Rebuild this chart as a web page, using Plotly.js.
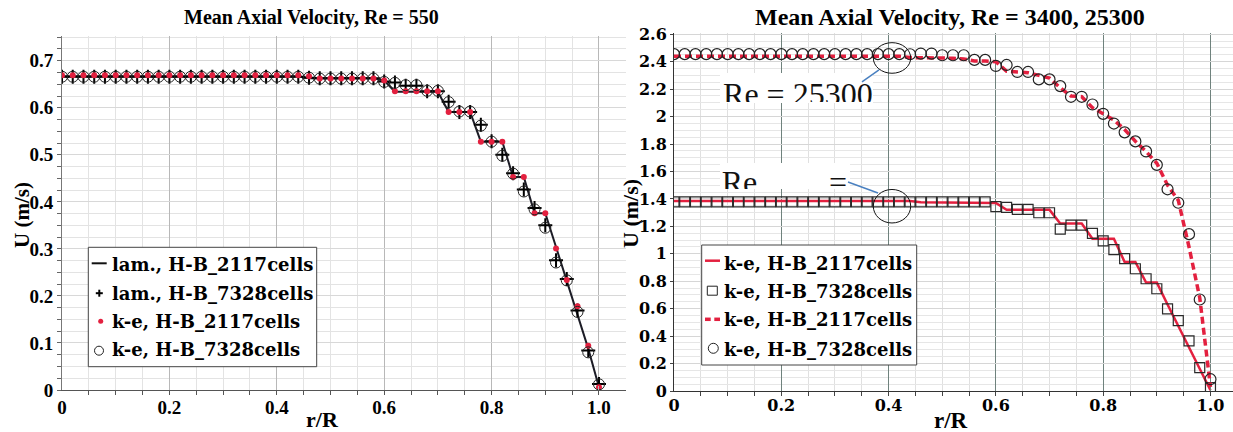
<!DOCTYPE html>
<html>
<head>
<meta charset="utf-8">
<script src="https://cdn.plot.ly/plotly-3.0.1.min.js"></script>
<style>
  html, body { margin: 0; padding: 0; background: #fff; }
  #chart { width: 1233px; height: 432px; }
</style>
</head>
<body>
<div id="chart"></div>
<script>
// Radial positions r/R shared by every profile
const rOverR = [0, 0.02, 0.04, 0.06, 0.08, 0.1, 0.12, 0.14, 0.16, 0.18,
  0.2, 0.22, 0.24, 0.26, 0.28, 0.3, 0.32, 0.34, 0.36, 0.38,
  0.4, 0.42, 0.44, 0.46, 0.48, 0.5, 0.52, 0.54, 0.56, 0.58,
  0.6, 0.62, 0.64, 0.66, 0.68, 0.7, 0.72, 0.74, 0.76, 0.78,
  0.8, 0.82, 0.84, 0.86, 0.88, 0.9, 0.92, 0.94, 0.96, 0.98, 1.0];

// Re = 550 (laminar and k-e runs), U in m/s
const lam2117 = [0.667, 0.667, 0.667, 0.667, 0.667, 0.667, 0.667, 0.667, 0.667, 0.667,
  0.667, 0.667, 0.667, 0.667, 0.667, 0.667, 0.667, 0.667, 0.667, 0.667,
  0.667, 0.667, 0.667, 0.663, 0.663, 0.663, 0.663, 0.663, 0.663, 0.663,
  0.658, 0.634, 0.634, 0.634, 0.634, 0.634, 0.591, 0.591, 0.591, 0.528,
  0.528, 0.528, 0.453, 0.453, 0.376, 0.376, 0.304, 0.232, 0.160, 0.088,
  0.006];
const lam7328 = [0.666, 0.666, 0.666, 0.666, 0.666, 0.666, 0.666, 0.666, 0.666, 0.666,
  0.666, 0.666, 0.666, 0.666, 0.666, 0.666, 0.666, 0.666, 0.666, 0.666,
  0.666, 0.666, 0.666, 0.664, 0.663, 0.663, 0.663, 0.663, 0.663, 0.663,
  0.656, 0.654, 0.647, 0.647, 0.635, 0.635, 0.613, 0.591, 0.591, 0.564,
  0.529, 0.500, 0.461, 0.426, 0.387, 0.350, 0.276, 0.236, 0.169, 0.084,
  0.013];
const ke2117_550 = [0.669, 0.669, 0.669, 0.669, 0.669, 0.669, 0.669, 0.669, 0.669, 0.669,
  0.669, 0.669, 0.669, 0.669, 0.669, 0.669, 0.669, 0.669, 0.669, 0.669,
  0.669, 0.669, 0.669, 0.667, 0.662, 0.662, 0.662, 0.662, 0.662, 0.662,
  0.658, 0.635, 0.635, 0.635, 0.635, 0.635, 0.591, 0.591, 0.591, 0.528,
  0.528, 0.528, 0.453, 0.453, 0.376, 0.376, 0.301, 0.234, 0.178, 0.094,
  0.006];
const ke7328_550 = [0.666, 0.666, 0.666, 0.666, 0.666, 0.666, 0.666, 0.666, 0.666, 0.666,
  0.666, 0.666, 0.666, 0.666, 0.666, 0.666, 0.666, 0.666, 0.666, 0.666,
  0.666, 0.666, 0.666, 0.664, 0.662, 0.662, 0.662, 0.662, 0.662, 0.662,
  0.655, 0.653, 0.648, 0.648, 0.636, 0.636, 0.612, 0.592, 0.592, 0.562,
  0.528, 0.498, 0.460, 0.422, 0.384, 0.345, 0.271, 0.233, 0.166, 0.080,
  0.012];

// Re = 3400 and Re = 25300 (k-e runs), U in m/s
const ke2117_3400 = [1.385, 1.385, 1.385, 1.385, 1.385, 1.385, 1.385, 1.385, 1.385, 1.385,
  1.385, 1.385, 1.385, 1.385, 1.385, 1.385, 1.385, 1.385, 1.385, 1.385,
  1.385, 1.385, 1.385, 1.375, 1.375, 1.375, 1.375, 1.375, 1.375, 1.375,
  1.370, 1.320, 1.320, 1.320, 1.320, 1.320, 1.220, 1.220, 1.220, 1.110,
  1.110, 1.110, 0.940, 0.940, 0.790, 0.790, 0.630, 0.475, 0.320, 0.160,
  0.005];
const ke7328_3400 = [1.379, 1.379, 1.379, 1.379, 1.379, 1.379, 1.379, 1.379, 1.379, 1.379,
  1.379, 1.379, 1.379, 1.379, 1.379, 1.379, 1.379, 1.379, 1.379, 1.379,
  1.379, 1.379, 1.379, 1.379, 1.379, 1.379, 1.379, 1.379, 1.379, 1.379,
  1.343, 1.338, 1.324, 1.324, 1.299, 1.299, 1.180, 1.209, 1.209, 1.148,
  1.094, 1.031, 0.965, 0.891, 0.818, 0.745, 0.598, 0.513, 0.366, 0.171,
  0.024];
const ke2117_25300 = [2.440, 2.440, 2.440, 2.440, 2.440, 2.440, 2.440, 2.440, 2.440, 2.440,
  2.440, 2.440, 2.440, 2.440, 2.440, 2.440, 2.440, 2.440, 2.440, 2.440,
  2.440, 2.440, 2.430, 2.430, 2.430, 2.430, 2.425, 2.420, 2.405, 2.405,
  2.400, 2.330, 2.325, 2.320, 2.300, 2.280, 2.210, 2.150, 2.145, 2.065,
  2.020, 1.975, 1.905, 1.820, 1.745, 1.660, 1.500, 1.390, 1.050, 0.680,
  0.030];
const ke7328_25300 = [2.455, 2.455, 2.455, 2.455, 2.455, 2.455, 2.455, 2.455, 2.455, 2.455,
  2.455, 2.455, 2.455, 2.455, 2.455, 2.455, 2.455, 2.455, 2.455, 2.455,
  2.455, 2.455, 2.454, 2.459, 2.459, 2.447, 2.447, 2.447, 2.413, 2.413,
  2.369, 2.376, 2.325, 2.325, 2.271, 2.271, 2.222, 2.144, 2.144, 2.088,
  2.020, 1.949, 1.885, 1.819, 1.746, 1.648, 1.470, 1.372, 1.143, 0.667,
  0.086];

// Tick labels
const xTickVals = [0, 0.2, 0.4, 0.6, 0.8, 1.0];
const xTickText = ['0', '0.2', '0.4', '0.6', '0.8', '1.0'];

// Text
const titleLeft = 'Mean Axial Velocity, Re = 550';
const titleRight = 'Mean Axial Velocity, Re = 3400, 25300';
const xTitle = 'r/R';
const yTitle = 'U (m/s)';
const namesLeft = ['lam., H-B_2117cells', 'lam., H-B_7328cells', 'k-e, H-B_2117cells', 'k-e, H-B_7328cells'];
const namesRight = ['k-e, H-B_2117cells', 'k-e, H-B_7328cells', 'k-e, H-B_2117cells', 'k-e, H-B_7328cells'];
const callout25300 = 'Re = 25300';
const callout3400 = ['Re', '='];

const RED = '#e3203f';
const SERIF = 'Liberation Serif, Times New Roman, serif';
const WIDE_SERIF = 'DejaVu Serif, serif';

// pixel -> paper helpers for page furniture
const W = 1233, H = 432;
const px = v => v / W;
const py = v => 1 - v / H;

const traces = [
  { x: rOverR, y: lam2117, xaxis: 'x', yaxis: 'y', mode: 'lines', name: namesLeft[0],
    line: { color: '#1c1c26', width: 2 } },
  { x: rOverR, y: lam7328, xaxis: 'x', yaxis: 'y', mode: 'markers', name: namesLeft[1],
    marker: { symbol: 'cross-thin-open', size: 10, color: '#000', line: { color: '#000', width: 2 } } },
  { x: rOverR, y: ke2117_550, xaxis: 'x', yaxis: 'y', mode: 'markers', name: namesLeft[2],
    marker: { symbol: 'circle', size: 6, color: RED } },
  { x: rOverR, y: ke7328_550, xaxis: 'x', yaxis: 'y', mode: 'markers', name: namesLeft[3],
    marker: { symbol: 'circle-open', size: 11, color: '#222', line: { color: '#222', width: 1 } } },

  { x: rOverR, y: ke2117_3400, xaxis: 'x2', yaxis: 'y2', mode: 'lines', name: namesRight[0],
    line: { color: RED, width: 2.5 } },
  { x: rOverR, y: ke7328_3400, xaxis: 'x2', yaxis: 'y2', mode: 'markers', name: namesRight[1],
    marker: { symbol: 'square-open', size: 10, color: '#2a2a2a', line: { color: '#2a2a2a', width: 1.2 } } },
  { x: rOverR, y: ke2117_25300, xaxis: 'x2', yaxis: 'y2', mode: 'lines', name: namesRight[2],
    line: { color: RED, width: 3.5, dash: '7px,4px' } },
  { x: rOverR, y: ke7328_25300, xaxis: 'x2', yaxis: 'y2', mode: 'markers', name: namesRight[3],
    marker: { symbol: 'circle-open', size: 11, color: '#222', line: { color: '#222', width: 1.2 } } },

  // callout texts, clipped to their white boxes
  { x: [0.02], y: [0.19], xaxis: 'x3', yaxis: 'y3', mode: 'text', text: [callout25300],
    textposition: 'middle right', cliponaxis: true,
    textfont: { family: SERIF, size: 32, color: '#111' } },
  { x: [0.013, 0.838], y: [0.158, 0.158], xaxis: 'x4', yaxis: 'y4', mode: 'text', text: callout3400,
    textposition: 'middle right', cliponaxis: true,
    textfont: { family: SERIF, size: 32, color: '#111' } }
];

const tickFontLeft = { family: SERIF, size: 19, weight: 'bold', color: '#000' };
const tickFontRight = { family: WIDE_SERIF, size: 16, weight: 'bold', color: '#000' };

const hidden = { visible: false, range: [0, 1], fixedrange: true };

const layout = {
  width: W, height: H,
  margin: { l: 0, r: 0, t: 0, b: 0 },
  paper_bgcolor: '#fff', plot_bgcolor: 'rgba(0,0,0,0)',
  showlegend: false,
  xaxis: {
    domain: [px(62), px(626)], range: [0, 1.0503], anchor: 'y',
    tickmode: 'array', tickvals: xTickVals, ticktext: xTickText,
    showgrid: true, gridcolor: '#b8b8b8', gridwidth: 1, zeroline: false,
    showline: true, linecolor: '#555', linewidth: 1,
    ticks: 'inside', ticklen: 4, tickcolor: '#b8b8b8', tickfont: tickFontLeft,
    minor: { dtick: 0.05, tick0: 0, showgrid: true, gridcolor: '#e3e3e3', ticks: 'outside', ticklen: 4, tickcolor: '#555' }
  },
  yaxis: {
    domain: [py(390), py(36)], range: [0, 0.7526], anchor: 'x',
    dtick: 0.1, tick0: 0,
    showgrid: true, gridcolor: '#d8d8d8', zeroline: false,
    showline: true, linecolor: '#777', linewidth: 1,
    ticks: 'outside', ticklen: 4, tickcolor: '#666', tickfont: tickFontLeft,
    minor: { dtick: 0.025, tick0: 0, showgrid: true, gridcolor: '#e3e3e3', ticks: 'outside', ticklen: 4, tickcolor: '#666' }
  },
  xaxis2: {
    domain: [px(674), 1], range: [0, 1.042], anchor: 'y2',
    tickmode: 'array', tickvals: xTickVals, ticktext: xTickText,
    showgrid: true, gridcolor: '#6f827d', gridwidth: 1, zeroline: false,
    showline: true, linecolor: '#333', linewidth: 1,
    ticks: 'inside', ticklen: 4, tickcolor: '#6f827d', tickfont: tickFontRight,
    minor: { dtick: 0.05, tick0: 0, showgrid: true, gridcolor: '#e0e0e0', ticks: 'outside', ticklen: 4, tickcolor: '#444' }
  },
  yaxis2: {
    domain: [py(391), py(33)], range: [0, 2.609], anchor: 'x2',
    dtick: 0.2, tick0: 0,
    showgrid: true, gridcolor: '#d6d6d6', zeroline: false,
    showline: true, linecolor: '#333', linewidth: 1,
    ticks: 'outside', ticklen: 3, tickcolor: '#444', tickfont: tickFontRight,
    minor: { dtick: 0.05, tick0: 0, showgrid: true, gridcolor: '#e6e6e6' }
  },
  xaxis3: Object.assign({ domain: [px(720), px(873)], anchor: 'y3' }, hidden),
  yaxis3: Object.assign({ domain: [py(102), py(73)], anchor: 'x3' }, hidden),
  xaxis4: Object.assign({ domain: [px(720), px(850)], anchor: 'y4' }, hidden),
  yaxis4: Object.assign({ domain: [py(189), py(163)], anchor: 'x4' }, hidden),
  shapes: [],
  annotations: []
};

// white boxes behind the callouts (above the grid, below the data)
layout.shapes.push(
  { type: 'rect', xref: 'x2', yref: 'y2', x0: 0.0857, x1: 0.3709, y0: 2.099, y1: 2.318,
    fillcolor: '#fff', line: { width: 0 }, layer: 'between' },
  { type: 'rect', xref: 'x2', yref: 'y2', x0: 0.0857, x1: 0.3281, y0: 1.4723, y1: 1.6618,
    fillcolor: '#fff', line: { width: 0 }, layer: 'between' }
);
// callout ellipses and leader lines
layout.shapes.push(
  { type: 'circle', xref: 'x2', yref: 'y2', x0: 0.3715, x1: 0.4412, y0: 2.3156, y1: 2.5386,
    line: { color: '#111', width: 1 }, layer: 'above' },
  { type: 'circle', xref: 'x2', yref: 'y2', x0: 0.3715, x1: 0.4412, y0: 1.2245, y1: 1.4687,
    line: { color: '#111', width: 1 }, layer: 'above' },
  { type: 'line', xref: 'x2', yref: 'y2', x0: 0.3504, y0: 2.2522, x1: 0.3821, y1: 2.3397,
    line: { color: '#4a80c0', width: 1.5 }, layer: 'above' },
  { type: 'line', xref: 'x2', yref: 'y2', x0: 0.3243, y0: 1.5233, x1: 0.3802, y1: 1.4431,
    line: { color: '#4a80c0', width: 1.5 }, layer: 'above' }
);

// hand-built legends
function box(x0, y0, x1, y1) {
  return { type: 'rect', xref: 'paper', yref: 'paper', x0: px(x0), x1: px(x1), y0: py(y1), y1: py(y0),
    fillcolor: '#fff', line: { color: '#444', width: 1 }, layer: 'above' };
}
function seg(x0, x1, y, color, width) {
  return { type: 'line', xref: 'paper', yref: 'paper', x0: px(x0), x1: px(x1), y0: py(y), y1: py(y),
    line: { color: color, width: width }, layer: 'above' };
}
function vseg(x, y0, y1, color, width) {
  return { type: 'line', xref: 'paper', yref: 'paper', x0: px(x), x1: px(x), y0: py(y0), y1: py(y1),
    line: { color: color, width: width }, layer: 'above' };
}
function glyph(type, cx, cy, rx, ry, fill, lineColor, lineWidth) {
  return { type: type, xref: 'paper', yref: 'paper', xsizemode: 'pixel', ysizemode: 'pixel',
    xanchor: px(cx), yanchor: py(cy), x0: -rx, x1: rx, y0: -ry, y1: ry,
    fillcolor: fill, line: { color: lineColor, width: lineWidth }, layer: 'above' };
}
const legendFont = { family: WIDE_SERIF, size: 18, weight: 'bold', color: '#000' };
function legendText(text, x, y) {
  return { text: text, xref: 'paper', yref: 'paper', x: px(x), y: py(y), xanchor: 'left', yanchor: 'middle',
    showarrow: false, borderpad: 0, font: legendFont };
}

const rowsL = [263.3, 291.7, 320, 348.3];
layout.shapes.push(
  box(88.3, 247.3, 316.7, 366.7),
  seg(91.7, 106.7, rowsL[0], '#111', 2),
  seg(95.8, 102.8, rowsL[1] + 1.5, '#000', 2),
  vseg(99.3, rowsL[1] - 2, rowsL[1] + 5, '#000', 2),
  glyph('circle', 100.7, rowsL[2] + 1.3, 2.5, 2.5, RED, RED, 0),
  glyph('circle', 99, rowsL[3] + 2.4, 4.5, 4.5, 'rgba(0,0,0,0)', '#222', 1)
);
const rowsR = [261.7, 290, 318.3, 348.3];
layout.shapes.push(
  box(701.7, 245, 916.7, 365),
  seg(705, 720, rowsR[0] - 1, RED, 2.5),
  glyph('rect', 712.3, rowsR[1] + 0.7, 5, 4.5, 'rgba(0,0,0,0)', '#222', 1),
  seg(705, 710.7, rowsR[2] + 1, RED, 3.5),
  seg(714.3, 720, rowsR[2] + 1, RED, 3.5),
  glyph('circle', 713.3, rowsR[3], 5, 5, 'rgba(0,0,0,0)', '#222', 1)
);
namesLeft.forEach((n, i) => layout.annotations.push(legendText(n, 110.5, rowsL[i] + 1.5)));
namesRight.forEach((n, i) => layout.annotations.push(legendText(n, 723.3, rowsR[i] + 1.5)));

// titles and axis titles
function label(text, x, y, size, angle) {
  return { text: text, xref: 'paper', yref: 'paper', x: px(x), y: py(y), xanchor: 'center', yanchor: 'middle',
    showarrow: false, textangle: angle || 0, font: { family: SERIF, size: size, weight: 'bold', color: '#000' } };
}
layout.annotations.push(
  label(titleLeft, 311, 17, 20),
  label(titleRight, 950, 17, 24),
  label(xTitle, 323, 419, 22),
  label(xTitle, 951, 420, 23),
  label(yTitle, 22, 215, 21, -90),
  label(yTitle, 630, 214, 22, -90)
);

Plotly.newPlot('chart', traces, layout, { staticPlot: true, displayModeBar: false });
</script>
</body>
</html>
